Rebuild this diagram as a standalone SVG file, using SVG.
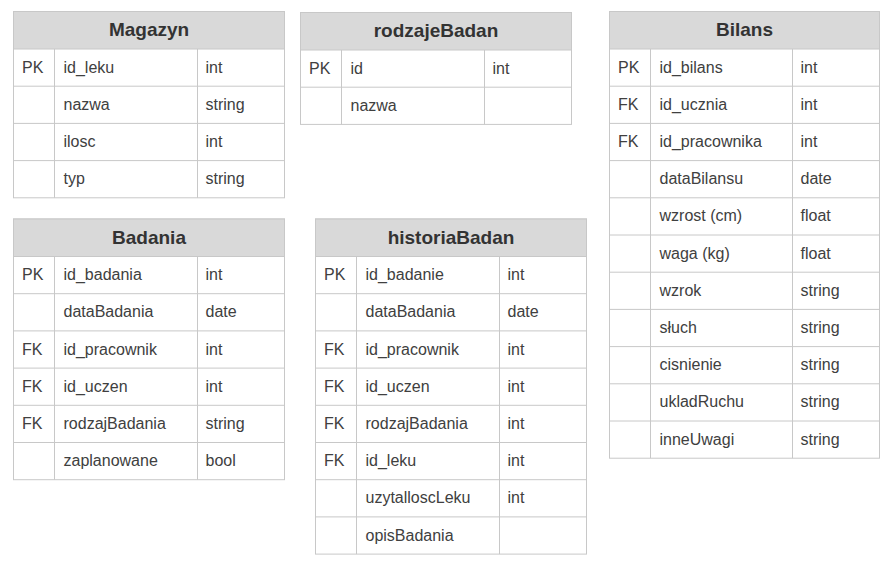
<svg xmlns="http://www.w3.org/2000/svg" width="892" height="567" viewBox="0 0 892 567">
  <style>
    .frame { fill: #ffffff; stroke: #c8c8c8; stroke-width: 1; }
    .head { fill: #d9d9d9; stroke: #c8c8c8; stroke-width: 1; }
    .grid { stroke: #c8c8c8; stroke-width: 1; fill: none; }
    .title { font-family: "Liberation Sans", Arial, sans-serif; font-size: 19px; font-weight: bold; fill: #333333; text-anchor: middle; }
    .cell { font-family: "Liberation Sans", Arial, sans-serif; font-size: 16px; fill: #404040; }
    .txt { transform: translate(0px, -1px); }
  </style>
  <rect width="892" height="567" fill="#ffffff"/>

  <!-- Magazyn -->
  <g id="magazyn" transform="translate(13.5,11.5)">
    <rect class="frame" x="0" y="0" width="271" height="186.3"/>
    <rect class="head" x="0" y="0" width="271" height="37.5"/>
    <path class="grid" d="M0 74.7H271M0 111.9H271M0 149.1H271M41 37.5V186.3M184 37.5V186.3"/>
    <g class="txt">
      <text class="title" x="135.5" y="25.75">Magazyn</text>
      <text class="cell" x="8.5" y="62.1">PK</text>
      <text class="cell" x="50" y="62.1">id_leku</text>
      <text class="cell" x="192" y="62.1">int</text>
      <text class="cell" x="50" y="99.3">nazwa</text>
      <text class="cell" x="192" y="99.3">string</text>
      <text class="cell" x="50" y="136.5">ilosc</text>
      <text class="cell" x="192" y="136.5">int</text>
      <text class="cell" x="50" y="173.7">typ</text>
      <text class="cell" x="192" y="173.7">string</text>
    </g>
  </g>

  <!-- rodzajeBadan -->
  <g id="rodzajeBadan" transform="translate(300.5,12.5)">
    <rect class="frame" x="0" y="0" width="271" height="111.9"/>
    <rect class="head" x="0" y="0" width="271" height="37.5"/>
    <path class="grid" d="M0 74.7H271M41 37.5V111.9M184 37.5V111.9"/>
    <g class="txt">
      <text class="title" x="135.5" y="25.75">rodzajeBadan</text>
      <text class="cell" x="8.5" y="62.1">PK</text>
      <text class="cell" x="50" y="62.1">id</text>
      <text class="cell" x="192" y="62.1">int</text>
      <text class="cell" x="50" y="99.3">nazwa</text>
    </g>
  </g>

  <!-- Bilans -->
  <g id="bilans" transform="translate(609.5,11.5)">
    <rect class="frame" x="0" y="0" width="270" height="446.7"/>
    <rect class="head" x="0" y="0" width="270" height="37.5"/>
    <path class="grid" d="M0 74.7H270M0 111.9H270M0 149.1H270M0 186.3H270M0 223.5H270M0 260.7H270M0 297.9H270M0 335.1H270M0 372.3H270M0 409.5H270M41 37.5V446.7M183 37.5V446.7"/>
    <g class="txt">
      <text class="title" x="135" y="25.75">Bilans</text>
      <text class="cell" x="8.5" y="62.1">PK</text>
      <text class="cell" x="50" y="62.1">id_bilans</text>
      <text class="cell" x="191" y="62.1">int</text>
      <text class="cell" x="8.5" y="99.3">FK</text>
      <text class="cell" x="50" y="99.3">id_ucznia</text>
      <text class="cell" x="191" y="99.3">int</text>
      <text class="cell" x="8.5" y="136.5">FK</text>
      <text class="cell" x="50" y="136.5">id_pracownika</text>
      <text class="cell" x="191" y="136.5">int</text>
      <text class="cell" x="50" y="173.7">dataBilansu</text>
      <text class="cell" x="191" y="173.7">date</text>
      <text class="cell" x="50" y="210.9">wzrost (cm)</text>
      <text class="cell" x="191" y="210.9">float</text>
      <text class="cell" x="50" y="248.1">waga (kg)</text>
      <text class="cell" x="191" y="248.1">float</text>
      <text class="cell" x="50" y="285.3">wzrok</text>
      <text class="cell" x="191" y="285.3">string</text>
      <text class="cell" x="50" y="322.5">słuch</text>
      <text class="cell" x="191" y="322.5">string</text>
      <text class="cell" x="50" y="359.7">cisnienie</text>
      <text class="cell" x="191" y="359.7">string</text>
      <text class="cell" x="50" y="396.9">ukladRuchu</text>
      <text class="cell" x="191" y="396.9">string</text>
      <text class="cell" x="50" y="434.1">inneUwagi</text>
      <text class="cell" x="191" y="434.1">string</text>
    </g>
  </g>

  <!-- Badania -->
  <g id="badania" transform="translate(13.5,219)">
    <rect class="frame" x="0" y="0" width="271" height="260.7"/>
    <rect class="head" x="0" y="0" width="271" height="37.5"/>
    <path class="grid" d="M0 74.7H271M0 111.9H271M0 149.1H271M0 186.3H271M0 223.5H271M41 37.5V260.7M184 37.5V260.7"/>
    <g class="txt">
      <text class="title" x="135.5" y="25.75">Badania</text>
      <text class="cell" x="8.5" y="62.1">PK</text>
      <text class="cell" x="50" y="62.1">id_badania</text>
      <text class="cell" x="192" y="62.1">int</text>
      <text class="cell" x="50" y="99.3">dataBadania</text>
      <text class="cell" x="192" y="99.3">date</text>
      <text class="cell" x="8.5" y="136.5">FK</text>
      <text class="cell" x="50" y="136.5">id_pracownik</text>
      <text class="cell" x="192" y="136.5">int</text>
      <text class="cell" x="8.5" y="173.7">FK</text>
      <text class="cell" x="50" y="173.7">id_uczen</text>
      <text class="cell" x="192" y="173.7">int</text>
      <text class="cell" x="8.5" y="210.9">FK</text>
      <text class="cell" x="50" y="210.9">rodzajBadania</text>
      <text class="cell" x="192" y="210.9">string</text>
      <text class="cell" x="50" y="248.1">zaplanowane</text>
      <text class="cell" x="192" y="248.1">bool</text>
    </g>
  </g>

  <!-- historiaBadan -->
  <g id="historiaBadan" transform="translate(315.5,219)">
    <rect class="frame" x="0" y="0" width="271" height="335.1"/>
    <rect class="head" x="0" y="0" width="271" height="37.5"/>
    <path class="grid" d="M0 74.7H271M0 111.9H271M0 149.1H271M0 186.3H271M0 223.5H271M0 260.7H271M0 297.9H271M41 37.5V335.1M184 37.5V335.1"/>
    <g class="txt">
      <text class="title" x="135.5" y="25.75">historiaBadan</text>
      <text class="cell" x="8.5" y="62.1">PK</text>
      <text class="cell" x="50" y="62.1">id_badanie</text>
      <text class="cell" x="192" y="62.1">int</text>
      <text class="cell" x="50" y="99.3">dataBadania</text>
      <text class="cell" x="192" y="99.3">date</text>
      <text class="cell" x="8.5" y="136.5">FK</text>
      <text class="cell" x="50" y="136.5">id_pracownik</text>
      <text class="cell" x="192" y="136.5">int</text>
      <text class="cell" x="8.5" y="173.7">FK</text>
      <text class="cell" x="50" y="173.7">id_uczen</text>
      <text class="cell" x="192" y="173.7">int</text>
      <text class="cell" x="8.5" y="210.9">FK</text>
      <text class="cell" x="50" y="210.9">rodzajBadania</text>
      <text class="cell" x="192" y="210.9">int</text>
      <text class="cell" x="8.5" y="248.1">FK</text>
      <text class="cell" x="50" y="248.1">id_leku</text>
      <text class="cell" x="192" y="248.1">int</text>
      <text class="cell" x="50" y="285.3">uzytalloscLeku</text>
      <text class="cell" x="192" y="285.3">int</text>
      <text class="cell" x="50" y="322.5">opisBadania</text>
    </g>
  </g>

  <!-- no relationships are drawn between the tables -->
  <g id="connectors"></g>
</svg>
